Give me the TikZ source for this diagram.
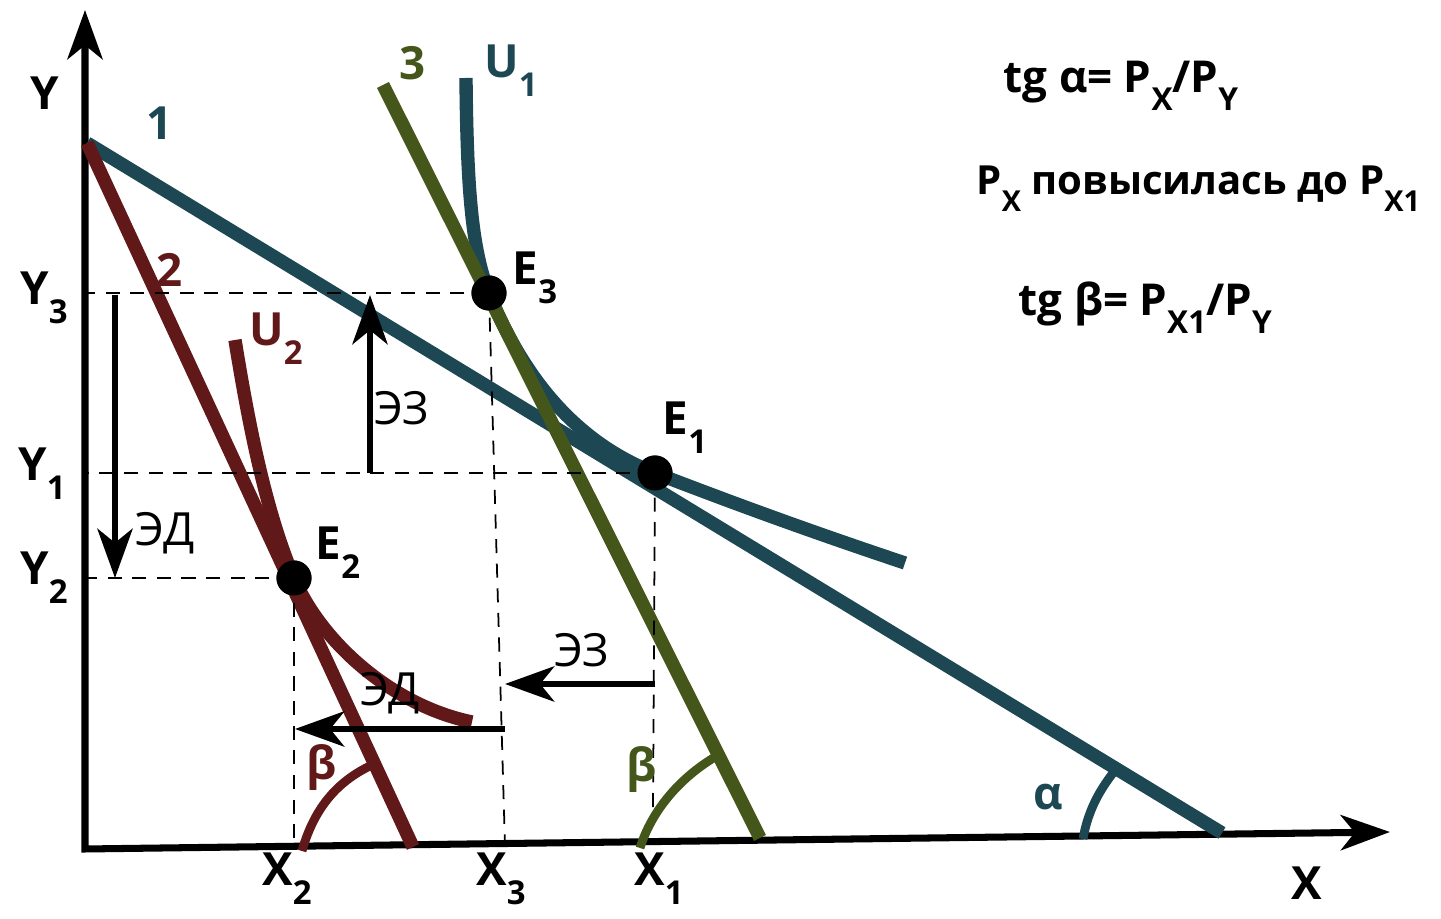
\documentclass[tikz,border=0pt]{standalone}
\usepackage{fontspec}
\setmainfont{Open Sans}
\usetikzlibrary{arrows.meta}
\definecolor{lineone}{HTML}{1D4853}
\definecolor{linetwo}{HTML}{611818}
\definecolor{linethree}{HTML}{45561B}
\newcommand{\lowsub}[2]{#1\raisebox{-0.75ex}{\scalebox{0.72}{#2}}}
\tikzset{
  axisline/.style={line width=2pt,{Stealth[length=14pt,width=10pt,inset=4pt]}-{Stealth[length=14pt,width=10pt,inset=4pt]}},
  budget/.style={line width=3.8pt},
  indiff/.style={line width=3.8pt},
  anglearc/.style={line width=2.5pt},
  guide/.style={line width=0.5pt,dash pattern=on 4pt off 3pt},
  effect/.style={line width=1.8pt,-{Stealth[length=14pt,width=10pt,inset=4pt]}},
  optimum/.style={circle,fill=black,minimum size=0.35cm,inner sep=0pt},
  axlabel/.style={font=\fontsize{13}{15}\selectfont\bfseries,inner sep=0pt},
  efflabel/.style={font=\fontsize{13}{15}\selectfont,inner sep=0pt},
  formula/.style={font=\fontsize{12.5}{15}\selectfont\bfseries,anchor=base west,inner sep=0pt}
}
\begin{document}
\begin{tikzpicture}[x=0.01cm,y=-0.01cm]
  \useasboundingbox (0,0) rectangle (1441,919);
  \coordinate (O) at (85,849);
  \coordinate (ytop) at (85,10);
  \coordinate (xend) at (1390,832);
  \coordinate (yint) at (87,143);
  \coordinate (oneend) at (1222,833);
  \coordinate (twoend) at (413,847);
  \coordinate (threetop) at (383,85);
  \coordinate (threeend) at (760,838);
  \coordinate (uonetop) at (466,78);
  \coordinate (uoneend) at (905,563);
  \coordinate (utwotop) at (235,340);
  \coordinate (utwoend) at (472,722);
  \coordinate (xthreefoot) at (505,846);
  \coordinate (xonefoot) at (653,812);
  \coordinate (ezvfrom) at (370,473);
  \coordinate (ezvto) at (370,295);
  \coordinate (edvfrom) at (115,295);
  \coordinate (edvto) at (115,578);
  \coordinate (ezhfrom) at (655,684);
  \coordinate (ezhto) at (505,684);
  \coordinate (edhfrom) at (505,729);
  \coordinate (edhto) at (295,729);

  \node[optimum] (E3) at (489,293) {};
  \node[optimum] (E1) at (655,473) {};
  \node[optimum] (E2) at (294,578) {};

  \draw[axisline] (ytop) -- (O) -- (xend);

  \draw[budget,lineone] (yint) -- (oneend);
  \draw[indiff,lineone] (uonetop) .. controls (467,190) and (472,250) .. (E3.center)
    .. controls (520,370) and (570,440) .. (E1.center)
    .. controls (720,498) and (800,528) .. (uoneend);
  \draw[budget,linetwo] (yint) -- (twoend);
  \draw[indiff,linetwo] (utwotop) .. controls (248,420) and (265,510) .. (E2.center)
    .. controls (320,640) and (390,705) .. (utwoend);
  \draw[budget,linethree] (threetop) -- (threeend);

  \draw[anglearc,lineone] (1083,839) .. controls (1088,810) and (1100,790) .. (1113,773);
  \draw[anglearc,linetwo] (302,851) .. controls (315,805) and (340,780) .. (372,765);
  \draw[anglearc,linethree] (640,848) .. controls (652,810) and (680,778) .. (715,757);

  \draw[guide] (E3.center) -- (E3.center -| O);
  \draw[guide] (E1.center) -- (E1.center -| O);
  \draw[guide] (E2.center) -- (E2.center -| O);
  \draw[guide] (E2.center) -- (E2.center |- O);
  \draw[guide] (E3.center) -- (xthreefoot);
  \draw[guide] (E1.center) -- (xonefoot);

  \draw[effect] (ezvfrom) -- (ezvto);
  \draw[effect] (edvfrom) -- (edvto);
  \draw[effect] (ezhfrom) -- (ezhto);
  \draw[effect] (edhfrom) -- (edhto);

  \node[optimum] at (E3) {};
  \node[optimum] at (E1) {};
  \node[optimum] at (E2) {};

  \node[axlabel] (ylab) at (45,93) {Y};
  \node[axlabel] (xlab) at (1307,883) {X};
  \node[axlabel] (y3lab) at (44,298) {\lowsub{Y}{3}};
  \node[axlabel] (y1lab) at (42,474) {\lowsub{Y}{1}};
  \node[axlabel] (y2lab) at (44,578) {\lowsub{Y}{2}};
  \node[axlabel] (x2lab) at (287,879) {\lowsub{X}{2}};
  \node[axlabel] (x3lab) at (501,879) {\lowsub{X}{3}};
  \node[axlabel] (x1lab) at (659,879) {\lowsub{X}{1}};
  \node[axlabel,lineone] (onelab) at (160,123) {1};
  \node[axlabel,linetwo] (twolab) at (170,270) {2};
  \node[axlabel,linethree] (threelab) at (413,63) {3};
  \node[axlabel,lineone] (u1lab) at (511,71) {\lowsub{U}{1}};
  \node[axlabel,linetwo] (u2lab) at (276,339) {\lowsub{U}{2}};
  \node[axlabel] (e3lab) at (535,278) {\lowsub{E}{3}};
  \node[axlabel] (e1lab) at (685,428) {\lowsub{E}{1}};
  \node[axlabel] (e2lab) at (338,553) {\lowsub{E}{2}};
  \node[efflabel] (ezvlab) at (402,408) {ЭЗ};
  \node[efflabel] (edvlab) at (165,533) {ЭД};
  \node[efflabel] (ezhlab) at (582,650) {ЭЗ};
  \node[efflabel] (edhlab) at (390,693) {ЭД};
  \node[axlabel,lineone] (alphalab) at (1048,797) {α};
  \node[axlabel,linetwo] (betatwolab) at (322,768) {β};
  \node[axlabel,linethree] (betathreelab) at (642,770) {β};

  \node[formula] (tga) at (1003,93) {tg α= \lowsub{P}{X}/\lowsub{P}{Y}};
  \node[formula,font=\fontsize{11.4}{14}\selectfont\bfseries] (rise) at (976,195) {\lowsub{P}{X} повысилась до \lowsub{P}{X1}};
  \node[formula] (tgb) at (1018,316) {tg β= \lowsub{P}{X1}/\lowsub{P}{Y}};
\end{tikzpicture}
\end{document}
